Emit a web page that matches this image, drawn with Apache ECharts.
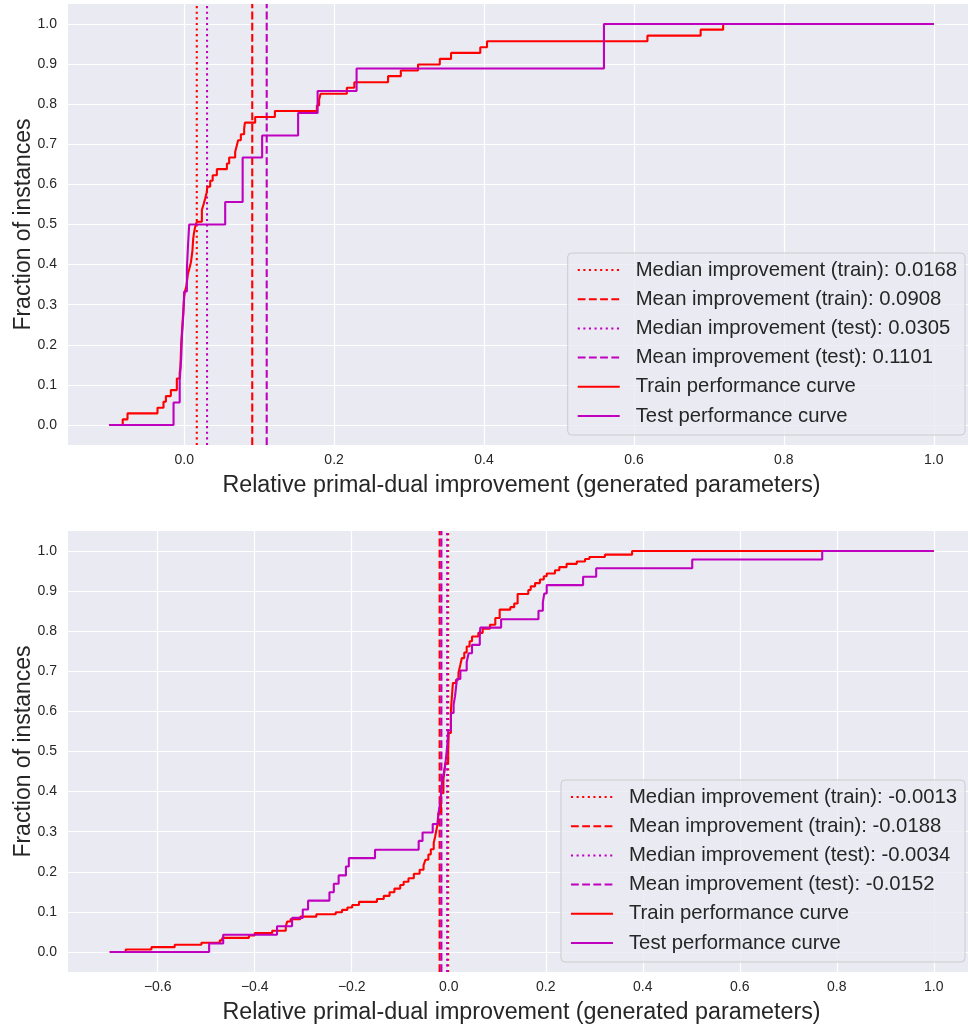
<!DOCTYPE html>
<html>
<head>
<meta charset="utf-8">
<script src="https://cdn.jsdelivr.net/npm/echarts@6.0.0/dist/echarts.min.js"></script>
<style>
  html, body { margin: 0; padding: 0; background: #fff; }
  #main { width: 968px; height: 1025px; }
</style>
</head>
<body>
<div id="main"></div>
<script>
// ---- data ----
var yTicks = [0, 0.1, 0.2, 0.3, 0.4, 0.5, 0.6, 0.7, 0.8, 0.9, 1.0];
var topXTicks = [0, 0.2, 0.4, 0.6, 0.8, 1.0];
var bottomXTicks = [-0.6, -0.4, -0.2, 0, 0.2, 0.4, 0.6, 0.8, 1.0];

// median train, mean train, median test, mean test
var topStats = [0.0168, 0.0908, 0.0305, 0.1101];
var bottomStats = [-0.0013, -0.0188, -0.0034, -0.0152];

// step curves: [x where the step happens, fraction after the step]
var topTrain = [
  [-0.1, 0], [-0.082, 0.014], [-0.0756, 0.029], [-0.0356, 0.043], [-0.0276, 0.058],
  [-0.0244, 0.072], [-0.0178, 0.087], [-0.0098, 0.116], [-0.006, 0.13], [-0.005, 0.145],
  [-0.0045, 0.174], [-0.004, 0.203], [-0.003, 0.232], [-0.002, 0.261], [-0.001, 0.29],
  [0.0, 0.319], [0.001, 0.333], [0.003, 0.348], [0.005, 0.377], [0.007, 0.391],
  [0.009, 0.406], [0.010, 0.42], [0.011, 0.435], [0.012, 0.464], [0.013, 0.478],
  [0.0145, 0.493], [0.0168, 0.507], [0.0236, 0.536], [0.026, 0.551], [0.028, 0.565],
  [0.030, 0.58], [0.031, 0.594], [0.0347, 0.609], [0.038, 0.623], [0.0436, 0.638],
  [0.057, 0.652], [0.060, 0.667], [0.068, 0.681], [0.070, 0.696], [0.072, 0.71],
  [0.0756, 0.725], [0.080, 0.739], [0.081, 0.754], [0.0947, 0.768], [0.121, 0.783],
  [0.177, 0.797], [0.180, 0.812], [0.182, 0.826], [0.217, 0.841], [0.227, 0.855],
  [0.272, 0.87], [0.289, 0.884], [0.312, 0.899], [0.341, 0.913], [0.356, 0.928],
  [0.395, 0.942], [0.404, 0.957], [0.618, 0.971], [0.689, 0.986], [0.719, 1.0], [1.0, 1.0]
];
var topTest = [
  [-0.1, 0], [-0.0142, 0.056], [-0.006, 0.111], [-0.004, 0.167], [-0.003, 0.222],
  [-0.001, 0.278], [0.0, 0.333], [0.0036, 0.389], [0.005, 0.444], [0.0067, 0.5],
  [0.0547, 0.556], [0.078, 0.667], [0.104, 0.722], [0.152, 0.778], [0.178, 0.833],
  [0.230, 0.889], [0.560, 1.0], [1.0, 1.0]
];
var bottomTrain = [
  [-0.699, 0], [-0.666, 0.006], [-0.613, 0.012], [-0.565, 0.018], [-0.510, 0.023],
  [-0.472, 0.029], [-0.467, 0.035], [-0.412, 0.041], [-0.400, 0.047], [-0.364, 0.053],
  [-0.336, 0.064], [-0.333, 0.076], [-0.326, 0.082], [-0.306, 0.088], [-0.273, 0.094],
  [-0.233, 0.099], [-0.220, 0.105], [-0.209, 0.111], [-0.199, 0.117], [-0.185, 0.125],
  [-0.148, 0.132], [-0.134, 0.14], [-0.122, 0.149], [-0.112, 0.158], [-0.100, 0.167],
  [-0.093, 0.175], [-0.083, 0.184], [-0.072, 0.195], [-0.060, 0.205], [-0.052, 0.216],
  [-0.048, 0.23], [-0.042, 0.243], [-0.037, 0.256], [-0.031, 0.272], [-0.028, 0.288],
  [-0.024, 0.313], [-0.021, 0.347], [-0.016, 0.396], [-0.011, 0.43], [-0.007, 0.471],
  [-0.0013, 0.5], [0.0, 0.546], [0.0045, 0.604], [0.0086, 0.671], [0.015, 0.679],
  [0.020, 0.696], [0.024, 0.717], [0.027, 0.733], [0.032, 0.747], [0.037, 0.762],
  [0.043, 0.775], [0.048, 0.787], [0.061, 0.796], [0.070, 0.806], [0.085, 0.816],
  [0.096, 0.833], [0.105, 0.854], [0.127, 0.86], [0.135, 0.869], [0.142, 0.893],
  [0.164, 0.903], [0.169, 0.912], [0.178, 0.92], [0.188, 0.929], [0.196, 0.937],
  [0.202, 0.944], [0.219, 0.952], [0.228, 0.96], [0.243, 0.968], [0.264, 0.974],
  [0.281, 0.98], [0.290, 0.985], [0.322, 0.991], [0.378, 1.0], [1.0, 1.0]
];
var bottomTest = [
  [-0.699, 0], [-0.494, 0.021], [-0.465, 0.043], [-0.354, 0.064], [-0.323, 0.085],
  [-0.301, 0.106], [-0.290, 0.128], [-0.246, 0.149], [-0.237, 0.17], [-0.227, 0.191],
  [-0.212, 0.213], [-0.206, 0.234], [-0.152, 0.255], [-0.062, 0.277], [-0.054, 0.298],
  [-0.033, 0.319], [-0.022, 0.34], [-0.019, 0.362], [-0.017, 0.383], [-0.015, 0.404],
  [-0.014, 0.426], [-0.010, 0.447], [-0.007, 0.468], [-0.0034, 0.511], [-0.002, 0.532],
  [-0.001, 0.553], [0.0045, 0.596], [0.010, 0.617], [0.013, 0.638], [0.015, 0.66],
  [0.017, 0.681], [0.024, 0.702], [0.037, 0.723], [0.041, 0.745], [0.048, 0.766],
  [0.064, 0.787], [0.065, 0.809], [0.108, 0.83], [0.185, 0.851], [0.194, 0.872],
  [0.197, 0.894], [0.202, 0.915], [0.277, 0.936], [0.304, 0.957], [0.502, 0.979],
  [0.770, 1.0], [1.0, 1.0]
];

var RED = '#ff0000', MAG = '#bf00bf';
var TXT = '#262626';
var FONT = '"Liberation Sans", Arial, sans-serif';
var DOTTED = [2.1, 3.5], DASHED = [7.8, 3.4];
var Y_MIN = -0.05, Y_MAX = 1.05;

var chart = echarts.init(document.getElementById('main'), null, {renderer: 'canvas'});

function fmt(v) {
  return (v < 0 ? '\u2212' : '') + Math.abs(v).toFixed(1);
}

var grids = [], xAxes = [], yAxes = [], series = [], legends = [];

function addPanel(i, stats, train, test, xMin, xMax, xTicks, top, legendTop) {
  grids.push({left: 68, top: top, width: 907, height: 441, show: true,
    outerBoundsMode: 'none', containLabel: false,
    backgroundColor: '#eaeaf2', borderWidth: 0});
  xAxes.push({
    type: 'value', gridIndex: i, min: xMin, max: xMax,
    axisLine: {show: false},
    axisTick: {show: false, customValues: xTicks},
    axisLabel: {customValues: xTicks, formatter: fmt, color: TXT, fontSize: 14, fontFamily: FONT, margin: 8},
    splitLine: {show: true, lineStyle: {color: '#ffffff', width: 1.2}},
    name: 'Relative primal-dual improvement (generated parameters)',
    nameLocation: 'middle', nameGap: 29, nameMoveOverlap: false,
    nameTextStyle: {color: TXT, fontSize: 23.3, fontFamily: FONT}
  });
  yAxes.push({
    type: 'value', gridIndex: i, min: Y_MIN, max: Y_MAX,
    axisLine: {show: false},
    axisTick: {show: false, customValues: yTicks},
    axisLabel: {customValues: yTicks, formatter: fmt, color: TXT, fontSize: 14, fontFamily: FONT, margin: 11},
    splitLine: {show: true, lineStyle: {color: '#ffffff', width: 1.2}},
    name: 'Fraction of instances',
    nameLocation: 'middle', nameGap: 33, nameMoveOverlap: false,
    nameTextStyle: {color: TXT, fontSize: 23, fontFamily: FONT}
  });
  var names = [
    'Median improvement (train): ' + stats[0].toFixed(4),
    'Mean improvement (train): ' + stats[1].toFixed(4),
    'Median improvement (test): ' + stats[2].toFixed(4),
    'Mean improvement (test): ' + stats[3].toFixed(4),
    'Train performance curve',
    'Test performance curve'
  ];
  var vColors = [RED, RED, MAG, MAG];
  var vTypes = [DOTTED, DASHED, DOTTED, DASHED];
  for (var k = 0; k < 4; k++) {
    series.push({
      type: 'line', name: names[k], xAxisIndex: i, yAxisIndex: i,
      data: [[stats[k], Y_MIN], [stats[k], Y_MAX]],
      symbol: 'none', silent: true,
      lineStyle: {color: vColors[k], width: 2.1, type: vTypes[k], cap: 'butt'},
      itemStyle: {color: vColors[k]}
    });
  }
  series.push({
    type: 'line', name: names[4], xAxisIndex: i, yAxisIndex: i, data: train,
    step: 'end', symbol: 'none', silent: true,
    lineStyle: {color: RED, width: 2.1}, itemStyle: {color: RED}
  });
  series.push({
    type: 'line', name: names[5], xAxisIndex: i, yAxisIndex: i, data: test,
    step: 'end', symbol: 'none', silent: true,
    lineStyle: {color: MAG, width: 2.1}, itemStyle: {color: MAG}
  });
  legends.push({
    data: names, orient: 'vertical', right: 3, top: legendTop,
    selectedMode: false,
    itemWidth: 42, itemHeight: 20, itemGap: 9.2,
    padding: [7, 8, 9, 9],
    backgroundColor: 'rgba(234,234,242,0.8)',
    borderColor: '#cccccc', borderWidth: 1, borderRadius: 4,
    itemStyle: {color: 'transparent', borderWidth: 0},
    textStyle: {color: TXT, fontSize: 20.3, fontFamily: FONT, lineHeight: 20, padding: [0, 0, 0, 11]}
  });
}

addPanel(0, topStats, topTrain, topTest, -0.155, 1.055, topXTicks, 4, 253);
addPanel(1, bottomStats, bottomTrain, bottomTest, -0.785, 1.085, bottomXTicks, 531, 780);

chart.setOption({
  animation: false,
  backgroundColor: '#ffffff',
  grid: grids,
  xAxis: xAxes,
  yAxis: yAxes,
  legend: legends,
  series: series
});
</script>
</body>
</html>
